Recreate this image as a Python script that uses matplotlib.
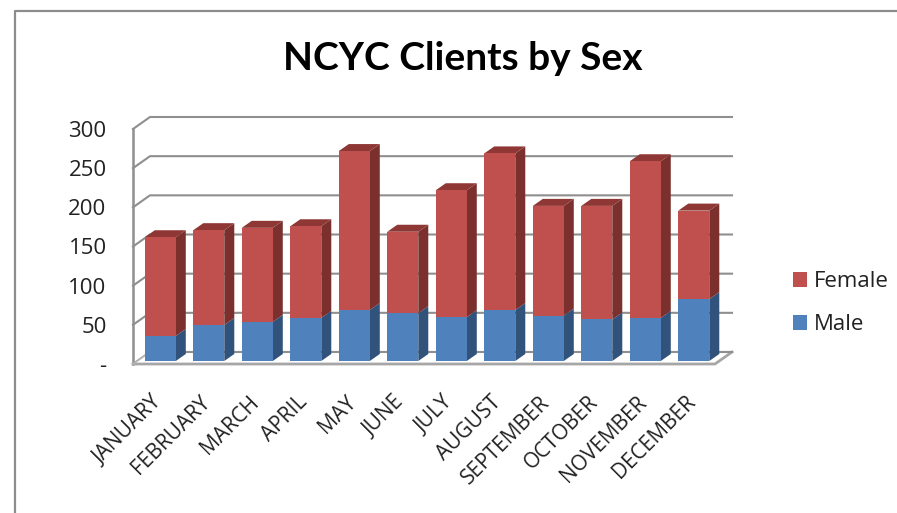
import matplotlib
matplotlib.use("Agg")
import matplotlib.pyplot as plt
from matplotlib.lines import Line2D
from matplotlib.patches import Patch, Polygon, Rectangle

months = ["JANUARY", "FEBRUARY", "MARCH", "APRIL", "MAY", "JUNE", "JULY",
          "AUGUST", "SEPTEMBER", "OCTOBER", "NOVEMBER", "DECEMBER"]
male = [32, 46, 50, 55, 65, 61, 56, 65, 58, 53, 55, 79]
female = [126, 121, 120, 117, 203, 104, 162, 200, 140, 145, 200, 113]
y_ticks = [0, 50, 100, 150, 200, 250, 300]
y_labels = ["-", "50", "100", "150", "200", "250", "300"]

W, H = 897, 513
plt.rcParams["font.family"] = ["Open Sans", "DejaVu Sans"]

# front plane of the fake 3d box, in pixels
left, right, bottom, top = 133, 715, 364, 129
px_x = (right - left) / 12
px_y = (bottom - top) / 300

fig = plt.figure(figsize=(W / 100, H / 100), dpi=100)
ax = fig.add_axes([left / W, 1 - bottom / H, (right - left) / W, (bottom - top) / H])
ax.set_xlim(-0.5, 11.5)
ax.set_ylim(0, 300)
ax.patch.set_visible(False)
for s in ax.spines.values():
    s.set_visible(False)

# outer frame, only top and left show in the picture
fig.add_artist(Line2D([15 / W, 15 / W, 1], [0, 1 - 11 / H, 1 - 11 / H], color="#8c8c8c", lw=1.6))

box_dx = 17 / px_x
box_dy = 12 / px_y
wall = "#8f8f8f"
for v in y_ticks:
    ax.plot([-0.5, -0.5 + box_dx, 11.5 + box_dx], [v, v + box_dy, v + box_dy],
            color=wall, lw=1.5, clip_on=False, zorder=1, solid_joinstyle="miter")
ax.plot([-0.5, -0.5], [0, 300], color=wall, lw=1.8, clip_on=False, zorder=1)
ax.add_patch(Polygon([(-0.5, 0), (11.5, 0), (11.5 + box_dx, box_dy), (-0.5 + box_dx, box_dy)],
                     closed=True, facecolor="white", edgecolor="none", clip_on=False, zorder=1.5))
ax.plot([-0.5, 11.5, 11.5 + box_dx], [0, 0, box_dy], color="#a6a6a6", lw=2.0, clip_on=False, zorder=1.6)
ax.plot([-0.5 + box_dx, 11.5 + box_dx], [box_dy, box_dy], color=wall, lw=1.5, clip_on=False, zorder=1.6)
ax.plot([-0.5, -0.5 + box_dx], [0, box_dy], color="#b5b5b5", lw=1.2, clip_on=False, zorder=1.6)

# bars
bar_w = 31 / px_x
off_x = 4 / px_x
off_y = 3 / px_y
dep_x = 10 / px_x
dep_y = 7 / px_y


def box(x0, y0, y1, front, side, top_col, z):
    x1 = x0 + bar_w
    ax.add_patch(Polygon([(x1, y0), (x1 + dep_x, y0 + dep_y), (x1 + dep_x, y1 + dep_y), (x1, y1)],
                         closed=True, facecolor=side, edgecolor="none", clip_on=False, zorder=z))
    if top_col:
        ax.add_patch(Polygon([(x0, y1), (x0 + dep_x, y1 + dep_y), (x1 + dep_x, y1 + dep_y), (x1, y1)],
                             closed=True, facecolor=top_col, edgecolor="none", clip_on=False, zorder=z))
    ax.add_patch(Rectangle((x0, y0), bar_w, y1 - y0, facecolor=front, edgecolor="none",
                           clip_on=False, zorder=z + 0.1))


for i in range(12):
    x0 = i - bar_w / 2 + off_x - 0.02
    box(x0, off_y, off_y + male[i], "#4f81bd", "#30527b", None, 3 + i)
    box(x0, off_y + male[i], off_y + male[i] + female[i], "#c0504d", "#7b302e", "#8e3735", 3.2 + i)

ax.set_yticks(y_ticks)
ax.set_yticklabels(y_labels, fontsize=16, color="#222222")
# labels sit a little left of the bar centres in the original
ax.set_xticks([i - 0.12 for i in range(12)])
ax.set_xticklabels(months, fontsize=15, rotation=45, ha="right", rotation_mode="anchor", color="#222222")
ax.tick_params(axis="both", length=0)
ax.tick_params(axis="y", pad=19)
ax.tick_params(axis="x", pad=20)

fig.text(463 / W, 1 - 58 / H, "NCYC Clients by Sex", family=["Lato", "DejaVu Sans"],
         fontsize=28, fontweight="bold", ha="center", va="center", color="black")

handles = [Patch(facecolor="#c0504d", label="Female"), Patch(facecolor="#4f81bd", label="Male")]
fig.legend(handles=handles, loc="center left", bbox_to_anchor=(793 / W, 1 - 303 / H), frameon=False,
           fontsize=16, handlelength=0.65, handleheight=0.65, handletextpad=0.3, labelspacing=1.0,
           labelcolor="#222222", borderpad=0, borderaxespad=0)

fig.savefig("out.png", dpi=100)
